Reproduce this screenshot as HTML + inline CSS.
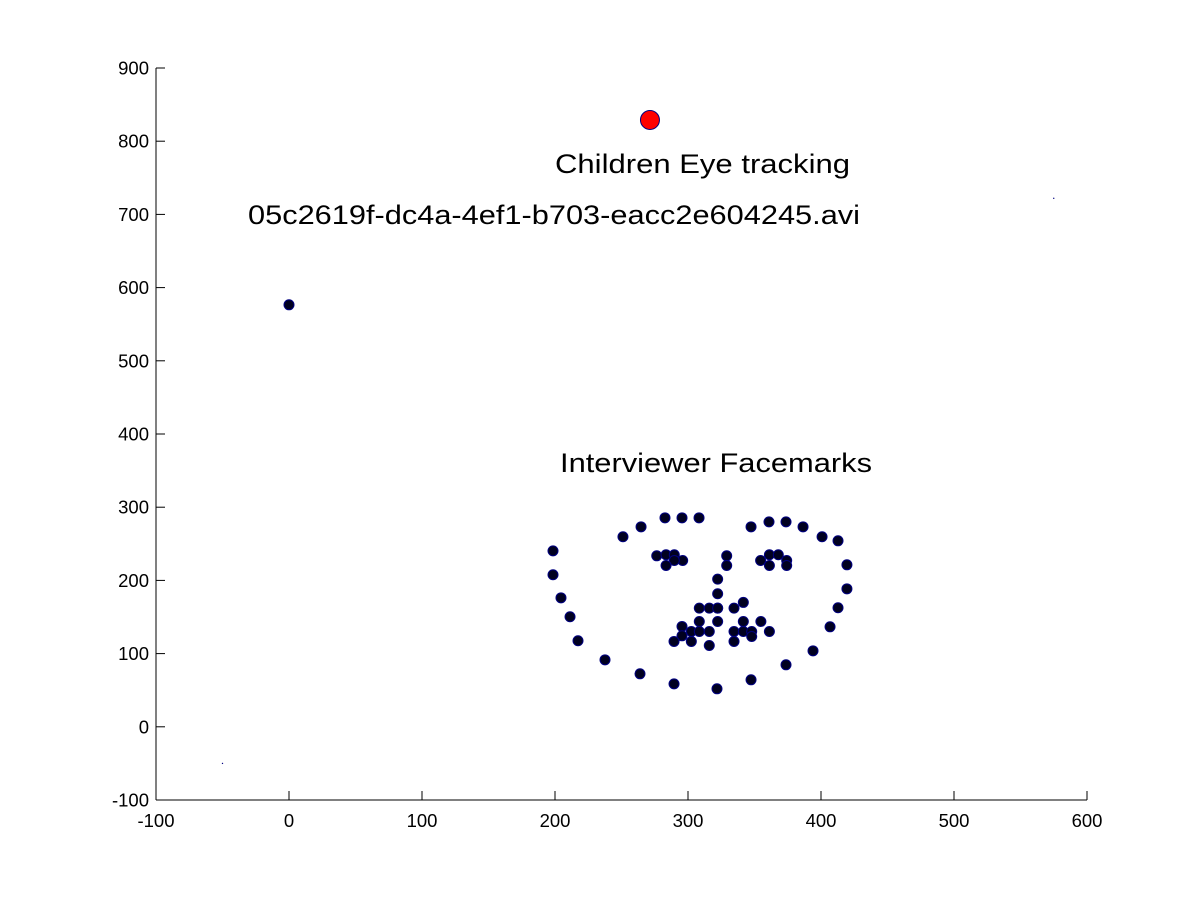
<!DOCTYPE html>
<html><head><meta charset="utf-8"><style>
html,body{margin:0;padding:0;background:#fff;}
svg{display:block;font-family:"Liberation Sans",Arial,sans-serif;}
</style></head><body>
<svg id="chart" width="1201" height="900" viewBox="0 0 1201 900"></svg>
<script>
const xTicks=[-100,0,100,200,300,400,500,600];
const yTicks=[-100,0,100,200,300,400,500,600,700,800,900];
const faceX=[198.5,198.5,204.5,211.3,217.3,237.6,263.9,289.5,321.8,347.4,373.7,394,406.8,412.8,419.5,419.5,
251.1,264.7,282.7,295.5,308.3,347.4,360.9,373.7,386.5,400.8,412.8,
329.1,329.1,322.3,322.3,322.3,308.5,316,322.3,334.6,341.6,
276.5,283.5,289.7,296,289.7,283.5,
354.6,361.2,367.9,374.2,374.2,361.2,
308.5,322.3,341.6,354.8,295.5,295.5,302.5,308.5,316,334.6,341.6,347.9,361.2,347.9,289.5,302.5,316,334.6];
const faceY=[240.4,207.7,176.2,150.3,117.5,91.5,72.4,58.7,51.9,64.2,84.7,103.8,136.6,162.6,188.5,221.3,
259.6,273.2,285.5,285.5,285.5,273.2,280,280,273.2,259.6,254.1,
233.6,220.4,201.7,181.7,162.1,162.1,162.1,162.1,162.1,169.9,
233.6,235,235,227.2,227.2,220.4,
227.2,235,235,227.2,220.4,220.4,
143.9,143.9,143.9,143.9,137.1,124.3,130.2,130.2,130.2,130.2,130.2,130.2,130.2,123.4,116.6,116.6,111.1,116.6];
const otherX=[0];
const otherY=[576.5];
const gazeX=[271.4];
const gazeY=[829];
const tinyX=[-50,575];
const tinyY=[-50,722];

const svg=document.getElementById('chart');
const NS='http://www.w3.org/2000/svg';
const X0=156,X1=1087,Y0=800,Y1=68;
const sx=v=>X0+(v-(-100))/700*(X1-X0);
const sy=v=>Y0-(v-(-100))/1000*(Y0-Y1);
function mk(t,a,p){const e=document.createElementNS(NS,t);for(const k in a)e.setAttribute(k,a[k]);(p||svg).appendChild(e);return e;}

const axes=mk('g',{});


const xl=mk('line',{x1:X0,y1:Y0,x2:X1,y2:Y0,stroke:'#000','stroke-width':1},axes);


const yl=mk('line',{x1:X0,y1:Y0,x2:X0,y2:Y1,stroke:'#000','stroke-width':1},axes);


xTicks.forEach(v=>{
 const x=sx(v);
 const t=mk('line',{x1:x,y1:Y0,x2:x,y2:Y0-9,stroke:'#000'},axes);
 
 
 const l=mk('text',{x:x,y:Y0+27,'font-size':18.5,'text-anchor':'middle',fill:'#000'},axes);
 
 
 l.textContent=v;
});
yTicks.forEach(v=>{
 const y=sy(v);
 const t=mk('line',{x1:X0,y1:y,x2:X0+9,y2:y,stroke:'#000'},axes);
 
 
 const l=mk('text',{x:X0-7,y:y+6.5,'font-size':18.5,'text-anchor':'end',fill:'#000'},axes);
 
 
 l.textContent=v;
});

const face=mk('g',{});


faceX.forEach((v,i)=>{
 const c=mk('circle',{cx:sx(v),cy:sy(faceY[i]),r:5,fill:'#000020',stroke:'#000080','stroke-width':1},face);
 
 
});
otherX.forEach((v,i)=>{
 const c=mk('circle',{cx:sx(v),cy:sy(otherY[i]),r:5,fill:'#000020',stroke:'#000080','stroke-width':1});
 
 
});
tinyX.forEach((v,i)=>{
 const c=mk('circle',{cx:sx(v),cy:sy(tinyY[i]),r:0.7,fill:'#000080'});
 
 
});
gazeX.forEach((v,i)=>{
 const c=mk('circle',{cx:sx(v),cy:sy(gazeY[i]),r:9.5,fill:'#ff0000',stroke:'#000080','stroke-width':1});
 
 
});

const t1=mk('text',{x:555,y:173,'font-size':27,fill:'#000',textLength:295,lengthAdjust:'spacingAndGlyphs'});


t1.textContent='Children Eye tracking';
const t2=mk('text',{x:248,y:224,'font-size':27,fill:'#000',textLength:612,lengthAdjust:'spacingAndGlyphs'});


t2.textContent='05c2619f-dc4a-4ef1-b703-eacc2e604245.avi';
const t3=mk('text',{x:560,y:472,'font-size':27,fill:'#000',textLength:312,lengthAdjust:'spacingAndGlyphs'});


t3.textContent='Interviewer Facemarks';
</script>
</body></html>
